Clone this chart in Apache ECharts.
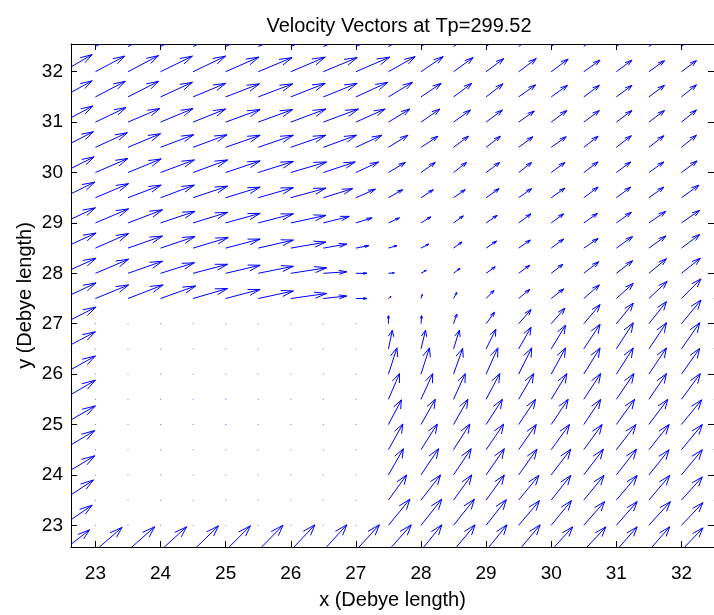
<!DOCTYPE html>
<html><head><meta charset="utf-8">
<script src="https://cdn.jsdelivr.net/npm/echarts@6/dist/echarts.min.js"></script>
<style>html,body{margin:0;padding:0;background:#fff}#c{width:714px;height:615px}</style>
</head><body><div id="c"></div>
<script>
// grid columns (x) and rows (y, top to bottom)
const xs = [22.5,23,23.5,24,24.5,25,25.5,26,26.5,27,27.5,28,28.5,29,29.5,30,30.5,31,31.5,32,32.5];
const ys = [32.5,32,31.5,31,30.5,30,29.5,29,28.5,28,27.5,27,26.5,26,25.5,25,24.5,24,23.5,23,22.5];

// scaled velocity components (Debye length), one row per y value
const uRows = [
 [0.44,0.45,0.47,0.49,0.50,0.51,0.52,0.53,0.53,0.52,0.43,0.36,0.31,0.28,0.27,0.26,0.25,0.24,0.24,0.23,0.23],
 [0.45,0.45,0.47,0.49,0.50,0.51,0.52,0.53,0.52,0.52,0.41,0.34,0.30,0.27,0.27,0.26,0.25,0.24,0.24,0.23,0.23],
 [0.45,0.46,0.47,0.49,0.50,0.52,0.53,0.53,0.52,0.49,0.37,0.31,0.28,0.26,0.26,0.25,0.24,0.24,0.24,0.23,0.23],
 [0.46,0.47,0.49,0.50,0.50,0.53,0.53,0.54,0.54,0.45,0.33,0.29,0.26,0.25,0.24,0.24,0.24,0.24,0.24,0.23,0.23],
 [0.47,0.49,0.50,0.51,0.52,0.53,0.54,0.54,0.51,0.40,0.30,0.26,0.23,0.22,0.22,0.23,0.22,0.23,0.23,0.23,0.23],
 [0.48,0.50,0.51,0.52,0.53,0.53,0.54,0.55,0.49,0.35,0.26,0.22,0.20,0.21,0.20,0.21,0.22,0.22,0.23,0.24,0.25],
 [0.49,0.51,0.51,0.52,0.53,0.53,0.54,0.54,0.45,0.30,0.22,0.19,0.18,0.20,0.20,0.21,0.22,0.22,0.23,0.27,0.28],
 [0.50,0.51,0.53,0.53,0.53,0.53,0.54,0.54,0.40,0.25,0.17,0.15,0.15,0.17,0.19,0.19,0.21,0.23,0.26,0.28,0.29],
 [0.51,0.51,0.53,0.53,0.54,0.53,0.54,0.54,0.36,0.20,0.13,0.12,0.13,0.16,0.18,0.19,0.22,0.25,0.26,0.28,0.29],
 [0.51,0.51,0.53,0.52,0.53,0.53,0.54,0.55,0.36,0.17,0.09,0.08,0.10,0.14,0.17,0.18,0.23,0.25,0.27,0.29,0.30],
 [0.51,0.51,0.54,0.54,0.53,0.53,0.54,0.55,0.36,0.17,0.04,0.02,0.05,0.12,0.17,0.19,0.24,0.26,0.28,0.30,0.31],
 [0.51,0,0,0,0,0,0,0,0,0,0.00,0.01,0.05,0.13,0.19,0.21,0.25,0.26,0.27,0.30,0.31],
 [0.50,0,0,0,0,0,0,0,0,0,0.06,0.07,0.09,0.15,0.19,0.22,0.25,0.26,0.27,0.28,0.29],
 [0.50,0,0,0,0,0,0,0,0,0,0.13,0.13,0.14,0.18,0.20,0.22,0.25,0.26,0.27,0.28,0.29],
 [0.50,0,0,0,0,0,0,0,0,0,0.17,0.18,0.18,0.21,0.23,0.24,0.26,0.27,0.27,0.29,0.30],
 [0.50,0,0,0,0,0,0,0,0,0,0.20,0.22,0.22,0.25,0.26,0.26,0.26,0.28,0.29,0.31,0.31],
 [0.49,0,0,0,0,0,0,0,0,0,0.22,0.25,0.25,0.27,0.27,0.28,0.28,0.30,0.31,0.32,0.32],
 [0.49,0,0,0,0,0,0,0,0,0,0.23,0.27,0.27,0.28,0.28,0.30,0.30,0.31,0.31,0.32,0.32],
 [0.47,0,0,0,0,0,0,0,0,0,0.28,0.30,0.28,0.28,0.31,0.30,0.31,0.32,0.32,0.32,0.33],
 [0.45,0,0,0,0,0,0,0,0,0,0.33,0.32,0.32,0.31,0.32,0.31,0.32,0.32,0.33,0.33,0.33],
 [0.41,0.41,0.41,0.40,0.39,0.38,0.38,0.37,0.36,0.36,0.35,0.32,0.33,0.32,0.33,0.33,0.34,0.32,0.32,0.33,0.33]
];
const vRows = [
 [0.34,0.31,0.31,0.30,0.30,0.29,0.28,0.28,0.28,0.29,0.30,0.30,0.28,0.26,0.26,0.25,0.24,0.23,0.22,0.22,0.22],
 [0.34,0.31,0.32,0.31,0.31,0.29,0.28,0.29,0.28,0.29,0.30,0.30,0.28,0.26,0.26,0.25,0.23,0.23,0.22,0.22,0.22],
 [0.32,0.31,0.31,0.29,0.27,0.26,0.26,0.27,0.27,0.29,0.29,0.27,0.27,0.26,0.24,0.23,0.23,0.23,0.23,0.24,0.24],
 [0.32,0.29,0.27,0.27,0.26,0.25,0.25,0.26,0.26,0.26,0.26,0.26,0.24,0.24,0.22,0.23,0.23,0.23,0.23,0.24,0.24],
 [0.31,0.29,0.27,0.25,0.25,0.24,0.24,0.24,0.24,0.24,0.24,0.22,0.22,0.22,0.21,0.21,0.22,0.23,0.23,0.24,0.24],
 [0.31,0.28,0.27,0.25,0.25,0.23,0.22,0.21,0.21,0.21,0.20,0.20,0.20,0.20,0.20,0.20,0.21,0.21,0.21,0.23,0.24],
 [0.31,0.28,0.25,0.25,0.23,0.21,0.20,0.19,0.18,0.17,0.16,0.16,0.16,0.18,0.18,0.19,0.21,0.21,0.21,0.25,0.26],
 [0.30,0.28,0.26,0.23,0.21,0.19,0.18,0.15,0.13,0.10,0.10,0.12,0.14,0.15,0.18,0.18,0.19,0.21,0.23,0.25,0.26],
 [0.30,0.29,0.24,0.23,0.21,0.18,0.16,0.12,0.08,0.05,0.05,0.08,0.12,0.14,0.16,0.18,0.19,0.23,0.24,0.27,0.28],
 [0.30,0.28,0.24,0.21,0.18,0.16,0.14,0.11,0.03,0.00,0.01,0.06,0.10,0.13,0.16,0.18,0.23,0.25,0.29,0.30,0.31],
 [0.31,0.27,0.27,0.25,0.20,0.18,0.15,0.10,0.05,0.00,0.04,0.08,0.12,0.16,0.18,0.19,0.27,0.30,0.34,0.39,0.41],
 [0.33,0,0,0,0,0,0,0,0,0,0.16,0.16,0.19,0.23,0.28,0.31,0.38,0.41,0.44,0.47,0.48],
 [0.34,0,0,0,0,0,0,0,0,0,0.37,0.37,0.37,0.39,0.43,0.47,0.49,0.52,0.52,0.52,0.52],
 [0.36,0,0,0,0,0,0,0,0,0,0.52,0.52,0.51,0.52,0.52,0.52,0.52,0.52,0.52,0.51,0.51],
 [0.38,0,0,0,0,0,0,0,0,0,0.51,0.51,0.51,0.51,0.51,0.51,0.51,0.51,0.51,0.51,0.51],
 [0.37,0,0,0,0,0,0,0,0,0,0.49,0.50,0.50,0.50,0.50,0.50,0.50,0.50,0.50,0.49,0.49],
 [0.38,0,0,0,0,0,0,0,0,0,0.51,0.51,0.51,0.51,0.50,0.50,0.50,0.50,0.50,0.50,0.50],
 [0.38,0,0,0,0,0,0,0,0,0,0.52,0.52,0.52,0.52,0.51,0.51,0.51,0.51,0.50,0.50,0.50],
 [0.40,0,0,0,0,0,0,0,0,0,0.50,0.50,0.50,0.50,0.49,0.49,0.49,0.49,0.49,0.46,0.46],
 [0.40,0,0,0,0,0,0,0,0,0,0.52,0.52,0.52,0.51,0.49,0.49,0.47,0.47,0.47,0.45,0.45],
 [0.41,0.46,0.47,0.47,0.49,0.49,0.50,0.51,0.51,0.51,0.51,0.51,0.51,0.51,0.51,0.47,0.47,0.47,0.47,0.45,0.45]
];

const xTicks = [23,24,25,26,27,28,29,30,31,32];
const yTicks = [23,24,25,26,27,28,29,30,31,32];
const titleText = 'Velocity Vectors at Tp=299.52';
const xName = 'x (Debye length)';
const yName = 'y (Debye length)';

const data = [];
ys.forEach((y, i) => xs.forEach((x, j) => data.push([x, y, uRows[i][j], vRows[i][j]])));

const ALPHA = 0.33, BETA = 0.33;
const BLUE = '#0000ff';
function renderItem(params, api) {
  const x = api.value(0), y = api.value(1), u = api.value(2), v = api.value(3);
  const p0 = api.coord([x, y]);
  if (u === 0 && v === 0) {
    return {type: 'rect', shape: {x: p0[0] - 0.5, y: p0[1] - 0.5, width: 1, height: 1},
            style: {fill: BLUE, opacity: 0.55}};
  }
  const p1 = api.coord([x + u, y + v]);
  const h1 = api.coord([x + u - ALPHA * (u + BETA * v), y + v - ALPHA * (v - BETA * u)]);
  const h2 = api.coord([x + u - ALPHA * (u - BETA * v), y + v - ALPHA * (v + BETA * u)]);
  return {type: 'group', children: [
    {type: 'polyline', shape: {points: [p0, p1]}, style: {stroke: BLUE, lineWidth: 1, fill: null}},
    {type: 'polyline', shape: {points: [h1, p1, h2]}, style: {stroke: BLUE, lineWidth: 1, fill: null}}
  ]};
}

const FONT = 'Liberation Sans, Arial, Helvetica, sans-serif';
const XMIN = 22.625, XMAX = 32.5, YMIN = 22.57, YMAX = 32.55;
const lineStyle = {color: '#000', width: 1};

const chart = echarts.init(document.getElementById('c'), null, {renderer: 'canvas'});
chart.setOption({
  animation: false,
  backgroundColor: '#fff',
  title: {text: titleText, left: 394, top: 11, textAlign: 'center',
          textStyle: {fontFamily: FONT, fontSize: 20, fontWeight: 'normal', color: '#000'}},
  grid: {left: 71, top: 44, right: 0, bottom: 58, containLabel: false},
  xAxis: [
    {type: 'value', min: XMIN, max: XMAX, position: 'bottom',
     axisLine: {onZero: false, lineStyle},
     axisTick: {inside: true, length: 6, customValues: xTicks, lineStyle},
     axisLabel: {customValues: xTicks, fontSize: 19, fontFamily: FONT, color: '#000', margin: 17},
     splitLine: {show: false},
     name: xName, nameLocation: 'middle', nameGap: 43,
     nameTextStyle: {fontFamily: FONT, fontSize: 20, color: '#000'}},
    {type: 'value', min: XMIN, max: XMAX, position: 'top',
     axisLine: {onZero: false, lineStyle},
     axisTick: {inside: true, length: 6, customValues: xTicks, lineStyle},
     axisLabel: {show: false}, splitLine: {show: false}}
  ],
  yAxis: [
    {type: 'value', min: YMIN, max: YMAX, position: 'left',
     axisLine: {onZero: false, lineStyle},
     axisTick: {inside: true, length: 6, customValues: yTicks, lineStyle},
     axisLabel: {customValues: yTicks, fontSize: 19, fontFamily: FONT, color: '#000', margin: 8},
     splitLine: {show: false},
     name: yName, nameLocation: 'middle', nameGap: 36, nameMoveOverlap: false,
     nameTextStyle: {fontFamily: FONT, fontSize: 20, color: '#000'}},
    {type: 'value', min: YMIN, max: YMAX, position: 'right',
     axisLine: {onZero: false, lineStyle},
     axisTick: {inside: true, length: 6, customValues: yTicks, lineStyle},
     axisLabel: {show: false}, splitLine: {show: false}}
  ],
  series: [{
    type: 'custom', xAxisIndex: 0, yAxisIndex: 0, clip: true, silent: true,
    renderItem, data, encode: {x: 0, y: 1}
  }]
});
</script></body></html>
